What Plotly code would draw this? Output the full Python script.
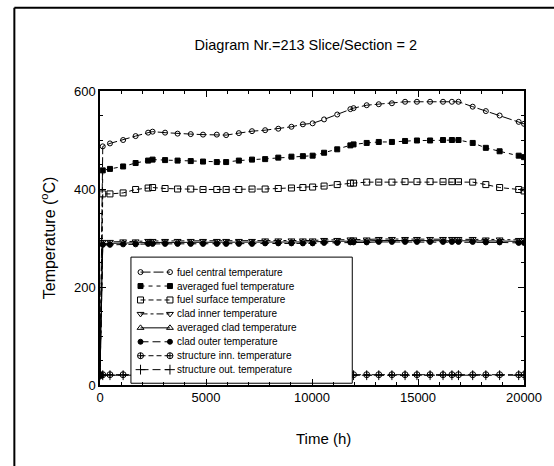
import plotly.graph_objects as go

# Output times (h)
time_h = [0, 130, 470, 1090, 1680, 2270, 2480, 3070, 3660, 4280,
          4860, 5510, 5950, 6550, 7170, 7790, 8410, 9030, 9570, 10030,
          10570, 11190, 11810, 11960, 12580, 13150, 13770, 14390, 14950, 15570,
          16180, 16600, 16910, 17580, 18200, 18850, 19750, 20000]

# Temperatures (°C)
fuel_central = [20, 487, 493, 500, 508, 515, 517, 515, 513, 512,
                511, 511, 510, 514, 518, 520, 523, 527, 532, 534,
                542, 552, 563, 565, 571, 573, 575, 578, 578, 578,
                578, 578, 578, 568, 559, 550, 537, 533]
averaged_fuel = [20, 438, 441, 446, 453, 458, 460, 459, 458, 457,
                 456, 455, 455, 458, 460, 461, 464, 466, 467, 468,
                 474, 481, 489, 491, 494, 496, 496, 498, 499, 499,
                 500, 500, 500, 494, 484, 477, 468, 465]
fuel_surface = [20, 390, 390, 392, 399, 402, 403, 401, 400, 400,
                399, 399, 399, 399, 400, 400, 401, 402, 403, 404,
                406, 409, 412, 412, 414, 414, 414, 415, 415, 415,
                415, 415, 415, 414, 409, 403, 399, 396]
clad_inner = [20, 292, 292, 293, 293, 294, 294, 294, 294, 294,
              294, 294, 294, 294, 294, 295, 295, 295, 295, 295,
              296, 296, 297, 297, 297, 298, 298, 298, 298, 298,
              298, 298, 298, 298, 297, 297, 296, 296]
averaged_clad = [20, 289, 289, 290, 290, 291, 291, 291, 291, 291,
                 291, 291, 291, 291, 291, 292, 292, 292, 292, 292,
                 293, 293, 294, 294, 294, 295, 295, 295, 295, 295,
                 295, 295, 295, 295, 294, 294, 293, 293]
clad_outer = [20, 286, 286, 287, 287, 288, 288, 288, 288, 288,
              288, 288, 288, 288, 288, 289, 289, 289, 289, 289,
              290, 290, 291, 291, 291, 292, 292, 292, 292, 292,
              292, 292, 292, 292, 291, 291, 290, 290]
structure_inner = [20, 21, 21, 21, 21, 21, 21, 21, 21, 21,
                   21, 21, 21, 21, 21, 21, 21, 21, 21, 21,
                   21, 21, 21, 21, 21, 21, 21, 21, 21, 21,
                   21, 21, 21, 21, 21, 21, 21, 21]
structure_outer = [20, 20, 20, 20, 20, 20, 20, 20, 20, 20,
                   20, 20, 20, 20, 20, 20, 20, 20, 20, 20,
                   20, 20, 20, 20, 20, 20, 20, 20, 20, 20,
                   20, 20, 20, 20, 20, 20, 20, 20]

series_names = ["fuel central temperature", "averaged fuel temperature",
                "fuel surface temperature", "clad inner temperature",
                "averaged clad temperature", "clad outer temperature",
                "structure inn. temperature", "structure out. temperature"]
series_values = [fuel_central, averaged_fuel, fuel_surface, clad_inner,
                 averaged_clad, clad_outer, structure_inner, structure_outer]

# Axis ticks
x_tick_vals = [0, 5000, 10000, 15000, 20000]
x_tick_text = ["0", "5000", "10000", "15000", "20000"]
y_tick_vals = [0, 200, 400, 600]
y_tick_text = ["0", "200", "400", "600"]

# line dash, marker symbol, marker size, marker fill
styles = [
    ("10px,3px", "circle-open", 5, "black"),
    ("4px,4px", "square", 5, "black"),
    ("5px,3px", "square-open", 6, "black"),
    ("7px,3px,3px,3px", "triangle-down-open", 6, "black"),
    ("solid", "triangle-up-open", 6, "black"),
    ("8px,4px", "circle", 5, "black"),
    ("5px,3px", "circle-cross-open", 6, "black"),
    ("8px,4px", "cross-thin-open", 7, "black"),
]

FONT = "Liberation Sans, Arial, sans-serif"

fig = go.Figure()

for name, vals, (dash, sym, size, col) in zip(series_names, series_values, styles):
    fig.add_trace(go.Scatter(
        x=time_h, y=vals, name=name, mode="lines+markers",
        line=dict(color="black", width=1, dash=dash),
        marker=dict(symbol=sym, size=size, color=col,
                    line=dict(color="black", width=1)),
        showlegend=False, hoverinfo="skip",
    ))

# Key box drawn on an overlay axis pair spanning the plot area (0..1)
box_x0, box_x1, box_y0, box_y1 = 0.073, 0.595, 0.006, 0.435
fig.add_trace(go.Scatter(
    x=[box_x0, box_x1, box_x1, box_x0, box_x0],
    y=[box_y0, box_y0, box_y1, box_y1, box_y0],
    mode="lines", fill="toself", fillcolor="white",
    line=dict(color="black", width=1),
    xaxis="x2", yaxis="y2", showlegend=False, hoverinfo="skip",
))

row_top, row_step = 0.384, 0.0474
key_left, key_right, key_text = 0.0956, 0.165, 0.178
for i, (name, (dash, sym, size, col)) in enumerate(zip(series_names, styles)):
    ry = row_top - i * row_step
    fig.add_trace(go.Scatter(
        x=[key_left, key_right], y=[ry, ry], mode="lines+markers",
        line=dict(color="black", width=1, dash=dash),
        marker=dict(symbol=sym, size=size, color=col,
                    line=dict(color="black", width=1)),
        xaxis="x2", yaxis="y2", showlegend=False, hoverinfo="skip",
    ))
    fig.add_annotation(
        x=key_text, y=ry, xref="paper", yref="paper", text=name,
        showarrow=False, xanchor="left", yanchor="middle",
        font=dict(family=FONT, size=10, color="black"),
    )

# Axis titles
fig.add_annotation(x=0.528, y=-0.182, xref="paper", yref="paper",
                   text="Time (h)", showarrow=False,
                   xanchor="center", yanchor="middle",
                   font=dict(family=FONT, size=15, color="black"))
fig.add_annotation(x=-0.122, y=0.5, xref="paper", yref="paper",
                   text="Temperature (<sup>o</sup>C)", showarrow=False,
                   textangle=-90, xanchor="center", yanchor="middle",
                   font=dict(family=FONT, size=16, color="black"))

# Outer frame around the figure: left and top sides only are in view
fig.add_shape(type="line", xref="paper", yref="paper",
              x0=-0.202, x1=-0.202, y0=-0.6, y1=1.283,
              line=dict(color="black", width=2), layer="above")
fig.add_shape(type="line", xref="paper", yref="paper",
              x0=-0.202, x1=1.4, y0=1.283, y1=1.283,
              line=dict(color="black", width=2), layer="above")

fig.update_layout(
    width=554, height=466,
    margin=dict(l=100, r=23, t=91, b=81),
    paper_bgcolor="white", plot_bgcolor="white",
    font=dict(family=FONT, size=13, color="black"),
    title=dict(text="Diagram Nr.=213 Slice/Section = 2",
               x=0.552, xref="container", xanchor="center",
               y=0.903, yref="container", yanchor="middle",
               font=dict(family=FONT, size=14.5, color="black")),
    xaxis=dict(range=[0, 20000], tickmode="array",
               tickvals=x_tick_vals, ticktext=x_tick_text,
               ticks="inside", ticklen=6, tickwidth=1, tickcolor="black",
               minor=dict(dtick=1000, ticks="inside", ticklen=3, tickcolor="black"),
               showgrid=False, zeroline=False, showline=True, linecolor="black",
               linewidth=1.5, mirror="ticks",
               tickfont=dict(family=FONT, size=13)),
    yaxis=dict(range=[0, 600], tickmode="array",
               tickvals=y_tick_vals, ticktext=y_tick_text,
               ticks="inside", ticklen=6, tickwidth=1, tickcolor="black",
               minor=dict(dtick=50, ticks="inside", ticklen=3, tickcolor="black"),
               showgrid=False, zeroline=False, showline=True, linecolor="black",
               linewidth=1.5, mirror="ticks",
               tickfont=dict(family=FONT, size=13)),
    xaxis2=dict(range=[0, 1], overlaying="x", visible=False, fixedrange=True),
    yaxis2=dict(range=[0, 1], overlaying="y", visible=False, fixedrange=True),
    showlegend=False,
)

fig.write_html("out.html",
               post_script="document.documentElement.style.overflow='hidden';"
                           "document.body.style.overflow='hidden';"
                           "document.body.style.margin='0';")
